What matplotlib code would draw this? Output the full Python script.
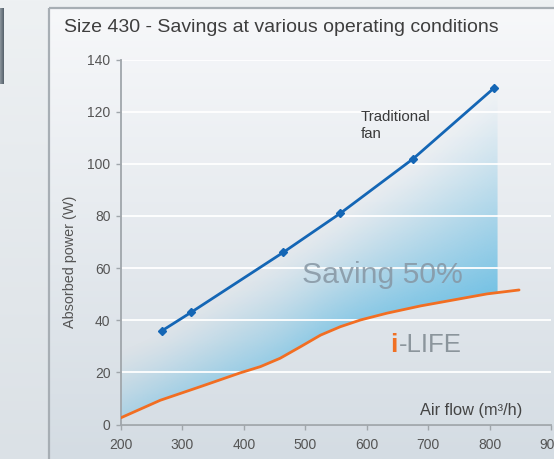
import numpy as np
import matplotlib
matplotlib.use('Agg')
import matplotlib.pyplot as plt
from matplotlib.colors import LinearSegmentedColormap, to_rgb
from matplotlib.patches import Rectangle, Polygon

# data
flow_trad = [267, 314, 464, 557, 676, 807]
power_trad = [36, 43, 66, 81, 102, 129]

flow_ilife = [200, 264, 329, 394, 427, 459, 492, 525, 557, 590, 633, 688, 742, 796, 848]
power_ilife = [2.6, 9.3, 14.5, 19.8, 22.2, 25.4, 29.8, 34.3, 37.5, 40.1, 42.7, 45.5, 47.8, 50.1, 51.6]

# upper edge of the shaded "saving" area
saving_flow = [200, 267, 314, 464, 557, 676, 807, 813]
saving_power = [29, 36, 43, 66, 81, 102, 129, 129]

yticks = [0, 20, 40, 60, 80, 100, 120, 140]
xticks = [200, 300, 400, 500, 600, 700, 800, 900]

W, H = 554, 459
FONT = ['Liberation Sans', 'DejaVu Sans']
plt.rcParams['font.family'] = FONT


def px(x, y):
    return x / W, 1 - y / H


fig = plt.figure(figsize=(W / 100, H / 100), dpi=100)

# background + panel
bg = fig.add_axes([0, 0, 1, 1])
bg.axis('off')
vgrad = np.linspace(0, 1, 256)[:, None]
bg.imshow(vgrad, extent=[0, W, H, 0], aspect='auto',
          cmap=LinearSegmentedColormap.from_list('outer', ['#eef1f3', '#dbe1e6']))
bg.imshow(vgrad, extent=[49, W, H, 8], aspect='auto',
          cmap=LinearSegmentedColormap.from_list('panel', ['#f7f8fa', '#d4dce3']))
bg.add_patch(Rectangle((49, 8), 520, 470, fill=False, ec='#a7aeb4', lw=1.6))
bg.imshow(np.linspace(0, 1, 64)[None, :], extent=[0, 4, 84, 8], aspect='auto',
          cmap=LinearSegmentedColormap.from_list('blk', ['#8c969e', '#55606a']))
bg.set_xlim(0, W)
bg.set_ylim(H, 0)

ax = fig.add_axes([121 / W, 1 - 424.5 / H, 430 / W, 365 / H])
ax.set_facecolor('none')
ax.set_xlim(200, 900)
ax.set_ylim(0, 140)

# gradient saving area: strongest just above the i-LIFE curve, towards the right
x_edge = saving_flow[-1]
xs = np.linspace(200, x_edge, 400)
ys = np.linspace(0, 130, 400)
XX, YY = np.meshgrid(xs, ys)
low = np.interp(XX, flow_ilife, power_ilife)
top = np.interp(XX, saving_flow, saving_power)
t = np.clip((YY - low) / (top - low), 0, 1)
xn = (XX - 200) / (x_edge - 200)
alpha = np.clip((0.42 + 0.5 * xn) * (1 - t) ** 1.3, 0, 1)
img = np.zeros(XX.shape + (4,))
img[..., :3] = to_rgb('#6cbfe4')
img[..., 3] = alpha
im = ax.imshow(img, extent=[200, x_edge, 0, 130], origin='lower', aspect='auto', zorder=0.2)

low_x = [f for f in flow_ilife if f <= x_edge] + [x_edge]
low_y = [p for f, p in zip(flow_ilife, power_ilife) if f <= x_edge] + \
        [np.interp(x_edge, flow_ilife, power_ilife)]
poly = list(zip(low_x, low_y)) + list(zip(saving_flow[::-1], saving_power[::-1]))
clip = Polygon(poly, closed=True, transform=ax.transData, fc='none', ec='none')
ax.add_patch(clip)
im.set_clip_path(clip)

ax.set_axisbelow(True)
ax.yaxis.grid(True, color='white', lw=1.3)
ax.set_yticks(yticks)
ax.set_xticks(xticks)
for s in ['top', 'right']:
    ax.spines[s].set_visible(False)
for s in ['left', 'bottom']:
    ax.spines[s].set_color('#a0a6ab')
    ax.spines[s].set_linewidth(1.3)
ax.tick_params(direction='out', length=3.5, width=1, color='#a0a6ab',
               labelcolor='#555555', labelsize=10, pad=4)
ax.tick_params(axis='x', pad=6)

ax.plot(flow_ilife, power_ilife, color='#f26e22', lw=2, zorder=3,
        solid_capstyle='round', solid_joinstyle='round')
ax.plot(flow_trad, power_trad, color='#1466b5', lw=2, marker='D', ms=4, zorder=4)

# texts
fig.text(*px(64, 28), 'Size 430 - Savings at various operating conditions',
         fontsize=14, color='#3e3e3e', va='center', ha='left')
fig.text(*px(70, 262), 'Absorbed power (W)', rotation=90, fontsize=10.4,
         color='#555555', va='center', ha='center')
fig.text(*px(361, 117), 'Traditional', fontsize=10.8, color='#3a3a3a', va='center')
fig.text(*px(361, 134), 'fan', fontsize=10.8, color='#3a3a3a', va='center')
fig.text(*px(302, 275), 'Saving 50%', fontsize=21.7, color='#8696a3', alpha=0.85,
         va='center', ha='left')
fig.text(*px(420, 410), 'Air flow (m\u00b3/h)', fontsize=11.8, color='#444444',
         va='center', ha='left')
fig.text(*px(390, 345), 'i', fontsize=19, color='#f07024', fontweight='bold',
         va='center', ha='left')
fig.text(*px(399, 345), '-LIFE', fontsize=18.5, color='#8b959c',
         va='center', ha='left')

fig.savefig('out.png', dpi=100)
